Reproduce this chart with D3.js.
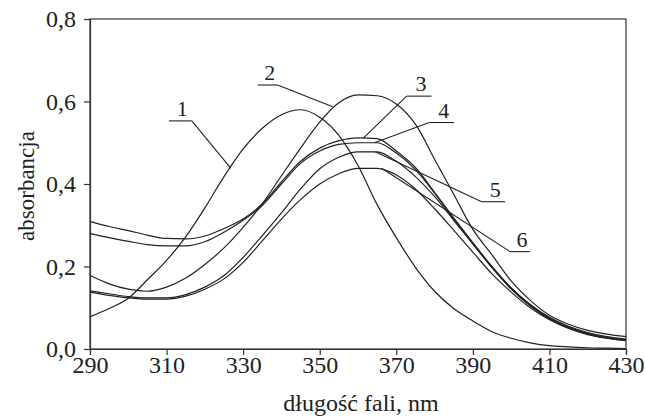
<!DOCTYPE html>
<html>
<head>
<meta charset="utf-8">
<script src="https://cdn.jsdelivr.net/npm/d3@7"></script>
<style>
body { margin: 0; background: #fff; }
text { font-family: "Liberation Serif", "Times New Roman", Times, serif; fill: #222; }
</style>
</head>
<body>
<svg id="chart"></svg>
<script>
// wavelength grid (nm)
const wavelengths = [290,295,300,305,310,315,320,325,330,335,340,345,350,355,360,
                     365,370,375,380,385,390,395,400,405,410,415,420,425,430];

// absorbance
const curve1 = [0.078,0.098,0.123,0.168,0.215,0.272,0.342,0.418,0.485,0.535,0.568,0.580,0.562,0.518,0.445,
                0.350,0.270,0.198,0.140,0.098,0.068,0.042,0.026,0.015,0.008,0.005,0.003,0.002,0.001];
const curve2 = [0.178,0.158,0.145,0.140,0.150,0.172,0.205,0.245,0.295,0.352,0.420,0.487,0.550,0.597,0.616,
                0.614,0.594,0.545,0.460,0.375,0.290,0.228,0.165,0.118,0.082,0.060,0.045,0.036,0.030];
const curve3 = [0.309,0.297,0.287,0.276,0.268,0.267,0.274,0.292,0.315,0.352,0.405,0.455,0.487,0.505,0.512,
                0.510,0.480,0.440,0.380,0.318,0.258,0.200,0.148,0.108,0.077,0.055,0.040,0.030,0.024];
const curve4 = [0.280,0.270,0.261,0.253,0.250,0.250,0.260,0.283,0.312,0.348,0.400,0.450,0.480,0.496,0.500,
                0.500,0.475,0.435,0.378,0.315,0.255,0.197,0.145,0.104,0.073,0.051,0.036,0.026,0.020];
const curve5 = [0.141,0.134,0.127,0.124,0.124,0.132,0.150,0.178,0.222,0.275,0.330,0.388,0.437,0.465,0.478,
                0.478,0.455,0.418,0.370,0.312,0.255,0.198,0.148,0.106,0.075,0.053,0.038,0.028,0.022];
const curve6 = [0.138,0.130,0.124,0.121,0.121,0.128,0.145,0.170,0.210,0.262,0.315,0.362,0.400,0.425,0.438,
                0.438,0.422,0.388,0.340,0.288,0.235,0.182,0.138,0.100,0.071,0.050,0.035,0.026,0.020];

const xTicks = [290,310,330,350,370,390,410,430];
const yTicks = [0,0.2,0.4,0.6,0.8];

// curve labels with underline and leader line (data units)
const labelNames   = ["1","2","3","4","5","6"];
const underlineX0  = [310.6,333.8,372.7,378.6,392.3,399.7];
const underlineX1  = [316.6,339.0,379.2,385.1,398.4,404.9];
const underlineY   = [0.553,0.640,0.613,0.549,0.357,0.236];
const leaderFromEnd= [true,true,false,false,false,false];
const targetX      = [326.8,353.4,361.4,364.3,364.5,366.2];
const targetY      = [0.438,0.587,0.511,0.500,0.478,0.438];

const W = 645, H = 417;
const margin = {left: 90, right: 19, top: 19, bottom: 68};
const width = W - margin.left - margin.right,
      height = H - margin.top - margin.bottom;

const svg = d3.select("#chart").attr("width", W).attr("height", H);
const g = svg.append("g").attr("transform", "translate(" + margin.left + "," + margin.top + ")");

const x = d3.scaleLinear().domain([290, 430]).range([0, width]);
const y = d3.scaleLinear().domain([0, 0.8]).range([height, 0]);

const fmt = v => d3.format(".1f")(v).replace(".", ",");

// frame
g.append("rect")
  .attr("width", width).attr("height", height)
  .attr("fill", "none").attr("stroke", "#333").attr("stroke-width", 1.2);

// axes
const xAxis = g.append("g")
  .attr("transform", "translate(0," + height + ")")
  .call(d3.axisBottom(x).tickValues(xTicks).tickSize(6).tickPadding(4).tickFormat(d3.format("d")));
const yAxis = g.append("g")
  .call(d3.axisLeft(y).tickValues(yTicks).tickSize(6).tickPadding(8).tickFormat(fmt));

[xAxis, yAxis].forEach(a => {
  a.attr("font-family", null);
  a.select(".domain").attr("stroke", "#333").attr("stroke-width", 1.2);
  a.selectAll(".tick line").attr("stroke", "#333").attr("stroke-width", 1.2);
  a.selectAll("text").attr("font-size", 24).attr("fill", "#222");
});
xAxis.selectAll("text").attr("dy", "0.6em");
yAxis.selectAll("text").attr("dy", "0.33em");

// axis titles
svg.append("text")
  .attr("x", margin.left + width / 2 + 3)
  .attr("y", 411)
  .attr("text-anchor", "middle")
  .attr("font-size", 24)
  .text("długość fali, nm");

svg.append("text")
  .attr("transform", "translate(34," + 186 + ") rotate(-90)")
  .attr("text-anchor", "middle")
  .attr("font-size", 23)
  .text("absorbancja");

// curves
const series = [curve1, curve2, curve3, curve4, curve5, curve6];
const line = d3.line()
  .x((d, i) => x(wavelengths[i]))
  .y(d => y(d))
  .curve(d3.curveMonotoneX);

g.append("g").selectAll("path")
  .data(series)
  .enter().append("path")
  .attr("d", line)
  .attr("fill", "none")
  .attr("stroke", "#222")
  .attr("stroke-width", 1.2);

// labels
const lab = g.append("g");
labelNames.forEach((name, i) => {
  const sx = leaderFromEnd[i] ? underlineX1[i] : underlineX0[i];
  lab.append("path")
    .attr("d", d3.line()([
      [x(underlineX0[i]), y(underlineY[i])],
      [x(underlineX1[i]), y(underlineY[i])]
    ]))
    .attr("stroke", "#222").attr("stroke-width", 1.1).attr("fill", "none");
  lab.append("path")
    .attr("d", d3.line()([
      [x(sx), y(underlineY[i])],
      [x(targetX[i]), y(targetY[i])]
    ]))
    .attr("stroke", "#222").attr("stroke-width", 1.1).attr("fill", "none");
  lab.append("text")
    .attr("x", (x(underlineX0[i]) + x(underlineX1[i])) / 2 + 2)
    .attr("y", y(underlineY[i]) - 5)
    .attr("text-anchor", "middle")
    .attr("font-size", 22)
    .text(name);
});
</script>
</body>
</html>
